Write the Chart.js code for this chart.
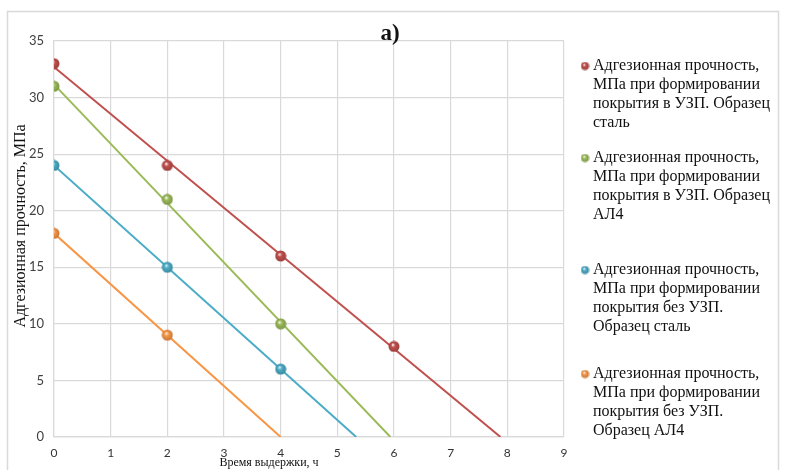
<!DOCTYPE html>
<html>
<head>
<meta charset="utf-8">
<script src="https://cdn.jsdelivr.net/npm/chart.js@4/dist/chart.umd.min.js"></script>
<style>
  html, body { margin: 0; padding: 0; background: #ffffff; }
  #wrap { width: 789px; height: 470px; position: relative; }
</style>
</head>
<body>
<div id="wrap"><canvas id="chart" width="789" height="470"></canvas></div>
<script>
// Holding time, hours
const hours = [0, 2, 4, 6];

// Adhesion strength, MPa
const steelUzp = [33, 24, 16, 8];   // steel, coating formed with UZP
const al4Uzp = [31, 21, 10];        // AL4, coating formed with UZP
const steelPlain = [24, 15, 6];     // steel, coating formed without UZP
const al4Plain = [18, 9];           // AL4, coating formed without UZP

const xTickValues = [0, 1, 2, 3, 4, 5, 6, 7, 8, 9];
const yTickValues = [0, 5, 10, 15, 20, 25, 30, 35];

const seriesNames = [
  'Адгезионная прочность,\nМПа при формировании\nпокрытия в УЗП. Образец\nсталь',
  'Адгезионная прочность,\nМПа при формировании\nпокрытия в УЗП. Образец\nАЛ4',
  'Адгезионная прочность,\nМПа при формировании\nпокрытия без УЗП.\nОбразец сталь',
  'Адгезионная прочность,\nМПа при формировании\nпокрытия без УЗП.\nОбразец АЛ4'
];
const seriesValues = [steelUzp, al4Uzp, steelPlain, al4Plain];
const seriesColors = ['#c0504d', '#9bbb59', '#4bacc6', '#f79646'];

const xTitle = 'Время выдержки, ч';
const yTitle = 'Адгезионная прочность, МПа';
const panelTitle = 'а)';

const SERIF = '"Liberation Serif", "Times New Roman", serif';
const SANS = 'Lato, "Liberation Sans", sans-serif';

// Least-squares linear trend of a series
function linearFit(xs, ys) {
  const n = ys.length;
  const x = xs.slice(0, n);
  const mx = x.reduce((a, b) => a + b, 0) / n;
  const my = ys.reduce((a, b) => a + b, 0) / n;
  let sxy = 0, sxx = 0;
  for (let i = 0; i < n; i++) {
    sxy += (x[i] - mx) * (ys[i] - my);
    sxx += (x[i] - mx) * (x[i] - mx);
  }
  const slope = sxy / sxx;
  return { slope, intercept: my - slope * mx };
}

// Shaded ball used as marker
function ballImage(color, size) {
  const c = document.createElement('canvas');
  c.width = size; c.height = size;
  const g = c.getContext('2d');
  const r = size / 2;
  const grad = g.createRadialGradient(r * 0.8, r * 0.7, r * 0.05, r, r, r);
  grad.addColorStop(0, 'rgba(255,255,255,0.7)');
  grad.addColorStop(0.3, color);
  grad.addColorStop(1, shade(color, 0.78));
  g.fillStyle = grad;
  g.beginPath();
  g.arc(r, r, r - 0.5, 0, Math.PI * 2);
  g.fill();
  return c;
}
function shade(hex, f) {
  const v = parseInt(hex.slice(1), 16);
  const r = Math.round(((v >> 16) & 255) * f);
  const gg = Math.round(((v >> 8) & 255) * f);
  const b = Math.round((v & 255) * f);
  return `rgb(${r},${gg},${b})`;
}

const markers = seriesColors.map(c => ballImage(c, 12));
const legendMarkers = seriesColors.map(c => ballImage(c, 9));

const datasets = [];
seriesValues.forEach((vals, i) => {
  datasets.push({
    label: seriesNames[i],
    data: vals.map((v, k) => ({ x: hours[k], y: v })),
    showLine: false,
    pointStyle: markers[i],
    pointRadius: 6,
    pointHoverRadius: 6,
    backgroundColor: seriesColors[i],
    borderColor: seriesColors[i],
    order: 0
  });
});
seriesValues.forEach((vals, i) => {
  const fit = linearFit(hours, vals);
  datasets.push({
    label: 'trend' + i,
    data: [
      { x: 0, y: fit.intercept },
      { x: -fit.intercept / fit.slope, y: 0 }
    ],
    showLine: true,
    borderColor: seriesColors[i],
    borderWidth: 2,
    pointRadius: 0,
    pointHoverRadius: 0,
    fill: false,
    order: 1
  });
});

const decorPlugin = {
  id: 'decor',
  beforeDraw(chart) {
    const ctx = chart.ctx;
    ctx.save();
    ctx.strokeStyle = '#d9d9d9';
    ctx.lineWidth = 1.5;
    ctx.strokeRect(7.5, 11.5, 771, 470);
    ctx.restore();
  },
  afterDraw(chart) {
    const ctx = chart.ctx;
    ctx.save();
    ctx.fillStyle = '#111111';

    // panel label
    ctx.font = 'bold 23px ' + SERIF;
    ctx.textAlign = 'center';
    ctx.textBaseline = 'alphabetic';
    ctx.fillText(panelTitle, 390, 40);

    // x axis title
    ctx.font = '12px ' + SERIF;
    ctx.textBaseline = 'middle';
    ctx.fillText(xTitle, 269, 463);

    // y axis title
    ctx.save();
    ctx.translate(21, 226);
    ctx.rotate(-Math.PI / 2);
    ctx.font = '16px ' + SERIF;
    ctx.fillText(yTitle, 0, 0);
    ctx.restore();

    // legend
    const itemTops = [66, 158, 270, 374];
    const lineStep = 19;
    ctx.font = '16px ' + SERIF;
    ctx.textAlign = 'left';
    ctx.textBaseline = 'middle';
    seriesNames.forEach((name, i) => {
      const y0 = itemTops[i];
      ctx.drawImage(legendMarkers[i], 585 - 4.5, y0 - 4.5, 9, 9);
      name.split('\n').forEach((line, k) => {
        ctx.fillText(line, 593, y0 + k * lineStep);
      });
    });
    ctx.restore();
  }
};

new Chart(document.getElementById('chart'), {
  type: 'scatter',
  data: { datasets },
  plugins: [decorPlugin],
  options: {
    responsive: false,
    animation: false,
    devicePixelRatio: 1,
    layout: { padding: { left: 8, right: 225, top: 41, bottom: 0 } },
    plugins: {
      legend: { display: false },
      tooltip: { enabled: false },
      title: { display: false }
    },
    scales: {
      x: {
        type: 'linear',
        min: 0,
        max: 9,
        afterBuildTicks: s => { s.ticks = xTickValues.map(v => ({ value: v })); },
        afterFit: s => { s.height = 33; },
        grid: { color: '#d9d9d9', lineWidth: 1.2, drawTicks: false },
        border: { color: '#d9d9d9', width: 1.2 },
        ticks: { color: '#333333', padding: 9, font: { family: SANS, size: 12 } },
        title: { display: false }
      },
      y: {
        type: 'linear',
        min: 0,
        max: 35,
        afterBuildTicks: s => { s.ticks = yTickValues.map(v => ({ value: v })); },
        afterFit: s => { s.width = 46; },
        grid: { color: '#d9d9d9', lineWidth: 1.2, drawTicks: false },
        border: { color: '#d9d9d9', width: 1.2 },
        ticks: { color: '#404040', padding: 10, font: { family: SANS, size: 13 } },
        title: { display: false }
      }
    }
  }
});
</script>
</body>
</html>
